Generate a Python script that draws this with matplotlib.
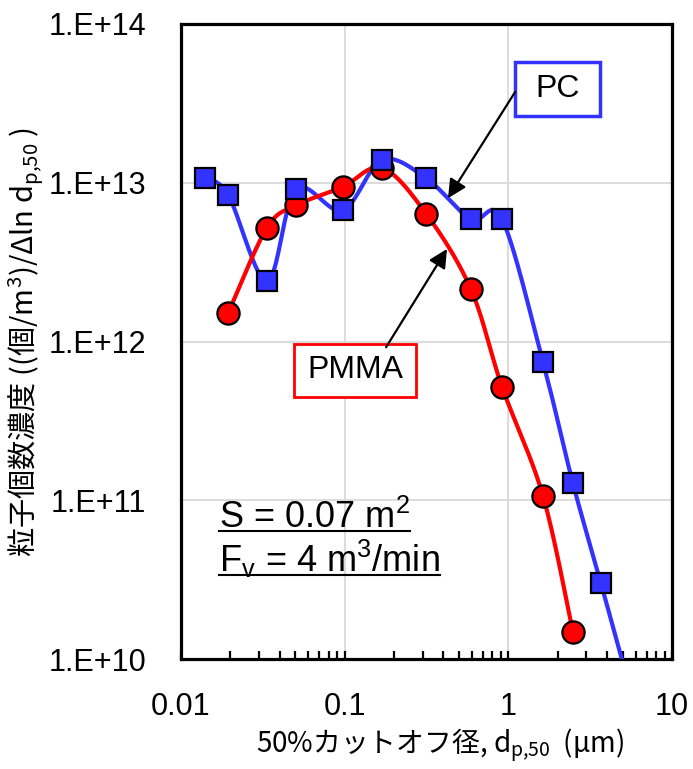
import numpy as np
import matplotlib
matplotlib.use("Agg")
import matplotlib.pyplot as plt
from matplotlib.ticker import FixedLocator, FuncFormatter, NullLocator, LogLocator
from matplotlib.patches import Rectangle
from matplotlib.lines import Line2D

plt.rcParams['font.family'] = ['Liberation Sans', 'Noto Sans CJK JP', 'DejaVu Sans']
plt.rcParams['mathtext.fontset'] = 'custom'
plt.rcParams['mathtext.rm'] = 'Liberation Sans'
plt.rcParams['mathtext.default'] = 'regular'

# --------------------
# データ
# --------------------
pc_dp50 = [0.014, 0.0194, 0.0335, 0.0505, 0.097, 0.169, 0.314, 0.59, 0.914, 1.63, 2.48, 3.68, 6.3]
pc_conc = [1.07e13, 8.4e12, 2.4e12, 9.1e12, 6.7e12, 1.39e13, 1.07e13, 5.9e12, 5.9e12,
           7.4e11, 1.28e11, 3.0e10, 4.0e9]
pmma_dp50 = [0.0194, 0.0335, 0.0505, 0.097, 0.169, 0.314, 0.59, 0.914, 1.63, 2.48]
pmma_conc = [1.51e12, 5.2e12, 7.2e12, 9.4e12, 1.24e13, 6.4e12, 2.14e12, 5.2e11, 1.06e11, 1.48e10]

x_ticks = [0.01, 0.1, 1, 10]
x_tick_labels = ["0.01", "0.1", "1", "10"]
y_ticks = [1e10, 1e11, 1e12, 1e13, 1e14]

BLUE = "#3333FF"
RED = "#FF0000"


def smooth_line(x, y, n=40):
    """Excel風の平滑線 (log-log空間でのベジェ / Catmull-Rom)"""
    p = np.column_stack([np.log10(x), np.log10(y)])
    p_ext = np.vstack([p[0], p, p[-1]])
    t = np.linspace(0, 1, n)[:, None]
    out = []
    for i in range(len(p) - 1):
        p0, p1, p2, p3 = p_ext[i], p_ext[i + 1], p_ext[i + 2], p_ext[i + 3]
        c1 = p1 + (p2 - p0) / 6
        c2 = p2 - (p3 - p1) / 6
        seg = (1 - t) ** 3 * p1 + 3 * (1 - t) ** 2 * t * c1 + 3 * (1 - t) * t ** 2 * c2 + t ** 3 * p2
        out.append(seg)
    out = np.vstack(out)
    return 10 ** out[:, 0], 10 ** out[:, 1]


fig = plt.figure(figsize=(6.93, 7.69), dpi=100)
ax = fig.add_axes([0.2612, 0.1430, 0.7085, 0.8258])
ax.set_xscale("log")
ax.set_yscale("log")
ax.set_xlim(0.01, 10)
ax.set_ylim(1e10, 1e14)

# 曲線
xs, ys = smooth_line(pc_dp50, pc_conc)
ax.plot(xs, ys, color=BLUE, lw=3, zorder=3)
xs, ys = smooth_line(pmma_dp50, pmma_conc)
ax.plot(xs, ys, color=RED, lw=3, zorder=3)

# マーカー
ax.plot(pmma_dp50, pmma_conc, ls="none", marker="o", ms=16, mfc=RED, mec="black", mew=1.6, zorder=4)
ax.plot(pc_dp50, pc_conc, ls="none", marker="s", ms=15, mfc=BLUE, mec="black", mew=1.6, zorder=5)

# 軸
ax.grid(True, which="major", color="#d9d9d9", lw=1.3)
ax.set_axisbelow(True)
for s in ax.spines.values():
    s.set_linewidth(2.3)

ax.xaxis.set_major_locator(FixedLocator(x_ticks))
ax.xaxis.set_major_formatter(FuncFormatter(lambda v, pos: x_tick_labels[x_ticks.index(v)] if v in x_ticks else ""))
ax.xaxis.set_minor_locator(LogLocator(base=10, subs=np.arange(2, 10)))
ax.tick_params(axis="x", which="both", direction="in", length=6, width=1.6, labelsize=22, pad=24)
ax.tick_params(axis="x", which="minor", labelbottom=False)

ax.yaxis.set_major_locator(FixedLocator(y_ticks))
ax.yaxis.set_minor_locator(NullLocator())
ax.yaxis.set_major_formatter(FuncFormatter(lambda v, pos: "1.E+%d" % int(round(np.log10(v)))))
ax.tick_params(axis="y", which="major", length=0, labelsize=22, pad=25)

ax.set_xlabel("50%カットオフ径, d$_{p{,}50}$  (μm)", family="Noto Sans CJK JP", fontsize=20, va="center")
ax.xaxis.set_label_coords(0.527, -0.135)
ax.set_ylabel("粒子個数濃度 ((個/m$^3$)/Δln d$_{p{,}50}$ )", family="Noto Sans CJK JP", fontsize=21, va="center")
ax.yaxis.set_label_coords(-0.315, 0.5)

# ラベル枠
ax.add_patch(Rectangle((0.680, 0.855), 0.173, 0.085, transform=ax.transAxes, fill=True,
                       fc="white", ec=BLUE, lw=2.5, zorder=6, clip_on=False))
ax.text(0.7665, 0.8975, "PC", transform=ax.transAxes, ha="center", va="center", fontsize=23, zorder=7)
ax.add_patch(Rectangle((0.230, 0.413), 0.249, 0.083, transform=ax.transAxes, fill=True,
                       fc="white", ec=RED, lw=2.0, zorder=6, clip_on=False))
ax.text(0.3545, 0.4545, "PMMA", transform=ax.transAxes, ha="center", va="center", fontsize=23, zorder=7)

arrow = dict(arrowstyle="-|>", color="black", lw=1.6, mutation_scale=28, shrinkA=0, shrinkB=0)
ax.annotate("", xy=(0.428, 8.0e12), xytext=(1.10, 3.73e13), arrowprops=arrow, zorder=6)
ax.annotate("", xy=(0.422, 3.83e12), xytext=(0.179, 9.2e11), arrowprops=arrow, zorder=6)

# 条件 (下線付き)
t1 = ax.text(0.077, 0.206, "S = 0.07 m$^2$", transform=ax.transAxes, fontsize=26, va="baseline")
t2 = ax.text(0.077, 0.137, "F$_v$ = 4 m$^3$/min", transform=ax.transAxes, fontsize=26, va="baseline")

fig.canvas.draw()
renderer = fig.canvas.get_renderer()
for t, yfrac in [(t1, 0.206), (t2, 0.137)]:
    bb = t.get_window_extent(renderer)
    y_base = ax.transAxes.transform((0, yfrac))[1] - 3
    p0 = fig.transFigure.inverted().transform((bb.x0, y_base))
    p1 = fig.transFigure.inverted().transform((bb.x1, y_base))
    fig.add_artist(Line2D([p0[0], p1[0]], [p0[1], p1[1]], color="black", lw=1.5))

fig.savefig("out.png", dpi=100)
